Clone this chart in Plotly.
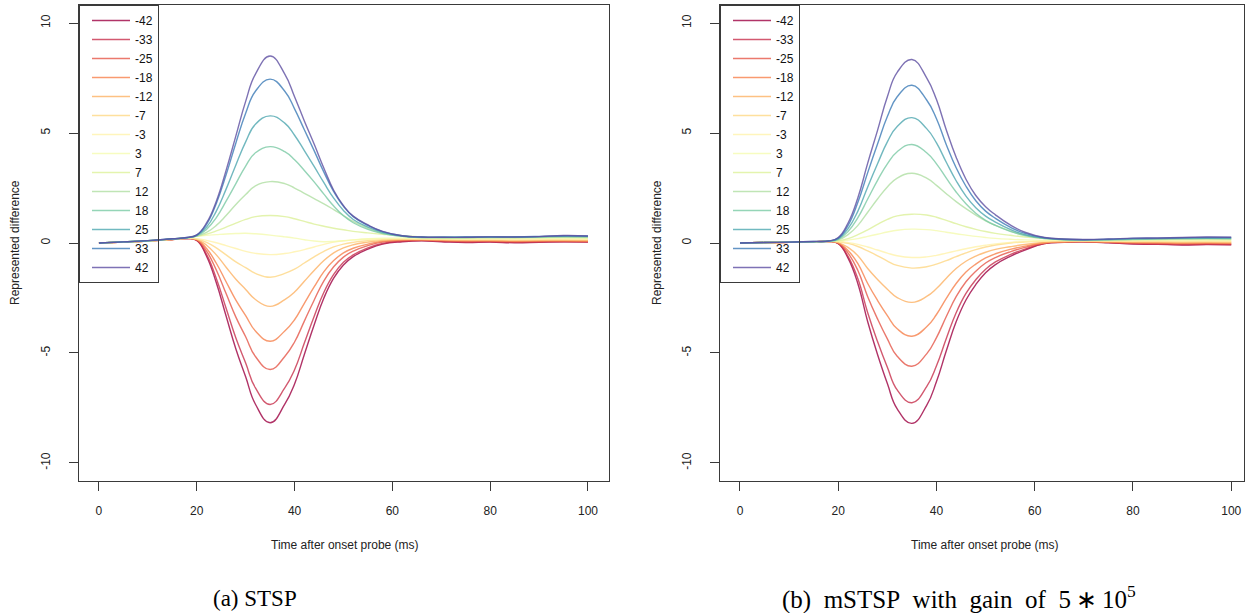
import plotly.graph_objects as go

# ---------------- data ----------------
time_ms = [0, 5, 10, 15, 18, 20, 22, 24, 26, 28, 30, 32, 35, 38, 40, 42, 44, 46, 48, 50,
           52, 55, 58, 62, 66, 70, 75, 80, 85, 90, 95, 100]

series_names = ["-42", "-33", "-25", "-18", "-12", "-7", "-3", "3", "7", "12", "18", "25", "33", "42"]

# (a) STSP
stsp_m42 = [0.0, 0.04, 0.09, 0.16, 0.2, 0.12, -0.6, -1.81, -3.32, -4.82, -6.08, -7.33, -8.17, -7.33, -6.41, -5.07, -3.73, -2.5, -1.6, -1.0, -0.62, -0.28, -0.05, 0.06, 0.1, 0.06, 0.02, 0.04, 0.01, 0.03, 0.05, 0.04]
stsp_m33 = [0.0, 0.04, 0.09, 0.16, 0.2, 0.12, -0.52, -1.61, -2.97, -4.32, -5.46, -6.59, -7.34, -6.59, -5.76, -4.55, -3.34, -2.24, -1.43, -0.88, -0.54, -0.22, -0.02, 0.08, 0.11, 0.08, 0.04, 0.06, 0.03, 0.05, 0.06, 0.05]
stsp_m25 = [0.0, 0.04, 0.09, 0.16, 0.2, 0.14, -0.37, -1.23, -2.3, -3.37, -4.26, -5.16, -5.75, -5.16, -4.5, -3.55, -2.6, -1.72, -1.08, -0.64, -0.37, -0.12, 0.04, 0.11, 0.13, 0.1, 0.07, 0.08, 0.06, 0.07, 0.08, 0.07]
stsp_m18 = [0.0, 0.04, 0.09, 0.16, 0.21, 0.15, -0.25, -0.92, -1.76, -2.6, -3.3, -4.0, -4.47, -4.0, -3.49, -2.74, -2.0, -1.3, -0.8, -0.45, -0.24, -0.05, 0.08, 0.14, 0.14, 0.12, 0.1, 0.1, 0.08, 0.09, 0.1, 0.09]
stsp_m12 = [0.0, 0.04, 0.09, 0.16, 0.21, 0.17, -0.1, -0.54, -1.1, -1.65, -2.11, -2.57, -2.88, -2.57, -2.23, -1.74, -1.25, -0.8, -0.45, -0.22, -0.08, 0.04, 0.12, 0.16, 0.16, 0.14, 0.12, 0.12, 0.11, 0.12, 0.12, 0.11]
stsp_m7 = [0.0, 0.04, 0.09, 0.17, 0.21, 0.18, 0.03, -0.22, -0.54, -0.86, -1.12, -1.38, -1.56, -1.38, -1.19, -0.91, -0.63, -0.38, -0.18, -0.05, 0.03, 0.1, 0.15, 0.17, 0.17, 0.16, 0.14, 0.15, 0.13, 0.14, 0.15, 0.14]
stsp_m3 = [0.0, 0.04, 0.09, 0.17, 0.22, 0.2, 0.12, 0.01, -0.12, -0.25, -0.38, -0.47, -0.53, -0.48, -0.4, -0.3, -0.18, -0.06, 0.04, 0.1, 0.14, 0.17, 0.19, 0.2, 0.19, 0.18, 0.17, 0.17, 0.16, 0.17, 0.18, 0.17]
stsp_p3 = [0.0, 0.05, 0.1, 0.18, 0.23, 0.3, 0.35, 0.38, 0.41, 0.43, 0.44, 0.42, 0.36, 0.28, 0.22, 0.15, 0.09, 0.06, 0.07, 0.1, 0.14, 0.19, 0.22, 0.23, 0.22, 0.21, 0.2, 0.21, 0.2, 0.21, 0.22, 0.21]
stsp_p7 = [0.0, 0.05, 0.1, 0.18, 0.24, 0.3, 0.4, 0.55, 0.72, 0.9, 1.07, 1.2, 1.25, 1.2, 1.1, 0.98, 0.86, 0.76, 0.67, 0.6, 0.53, 0.46, 0.4, 0.33, 0.28, 0.24, 0.23, 0.24, 0.23, 0.24, 0.25, 0.24]
stsp_p12 = [0.0, 0.05, 0.1, 0.18, 0.24, 0.31, 0.48, 0.8, 1.25, 1.75, 2.2, 2.6, 2.79, 2.7, 2.5, 2.26, 2.02, 1.78, 1.52, 1.25, 0.98, 0.67, 0.45, 0.31, 0.25, 0.24, 0.24, 0.25, 0.25, 0.26, 0.27, 0.26]
stsp_p18 = [0.0, 0.05, 0.1, 0.18, 0.24, 0.33, 0.62, 1.15, 1.9, 2.7, 3.5, 4.1, 4.38, 4.15, 3.78, 3.3, 2.78, 2.22, 1.68, 1.24, 0.92, 0.62, 0.43, 0.3, 0.25, 0.25, 0.25, 0.26, 0.26, 0.27, 0.29, 0.28]
stsp_p25 = [0.0, 0.05, 0.1, 0.19, 0.24, 0.35, 0.72, 1.45, 2.45, 3.55, 4.6, 5.4, 5.78, 5.45, 4.9, 4.2, 3.48, 2.74, 2.04, 1.48, 1.07, 0.72, 0.48, 0.32, 0.26, 0.26, 0.26, 0.27, 0.27, 0.29, 0.31, 0.3]
stsp_p33 = [0.0, 0.05, 0.11, 0.19, 0.25, 0.36, 0.85, 1.8, 3.1, 4.55, 5.9, 6.9, 7.45, 6.9, 6.1, 5.15, 4.2, 3.22, 2.34, 1.67, 1.2, 0.8, 0.52, 0.33, 0.27, 0.26, 0.27, 0.28, 0.28, 0.3, 0.33, 0.32]
stsp_p42 = [0.0, 0.05, 0.11, 0.19, 0.25, 0.37, 0.91, 1.9, 3.3, 4.87, 6.44, 7.68, 8.5, 7.68, 6.65, 5.55, 4.5, 3.4, 2.4, 1.7, 1.22, 0.82, 0.53, 0.33, 0.27, 0.26, 0.26, 0.28, 0.27, 0.29, 0.34, 0.32]

# (b) mSTSP with gain of 5*10^5
mstsp_m42 = [0.0, 0.02, 0.03, 0.05, 0.07, -0.03, -0.69, -1.85, -3.58, -5.07, -6.39, -7.54, -8.2, -7.38, -6.3, -4.9, -3.58, -2.59, -1.89, -1.35, -0.98, -0.61, -0.32, -0.03, 0.03, 0.05, 0.01, -0.05, -0.06, -0.09, -0.07, -0.08]
mstsp_m33 = [0.0, 0.02, 0.03, 0.05, 0.07, -0.02, -0.61, -1.63, -3.17, -4.48, -5.65, -6.68, -7.26, -6.53, -5.58, -4.34, -3.17, -2.29, -1.67, -1.19, -0.86, -0.53, -0.28, -0.02, 0.04, 0.05, 0.02, -0.03, -0.05, -0.07, -0.06, -0.07]
mstsp_m25 = [0.0, 0.02, 0.03, 0.05, 0.07, 0.0, -0.46, -1.25, -2.44, -3.45, -4.36, -5.15, -5.6, -5.04, -4.3, -3.34, -2.44, -1.76, -1.28, -0.91, -0.66, -0.4, -0.2, 0.0, 0.05, 0.06, 0.03, 0.0, -0.02, -0.04, -0.03, -0.04]
mstsp_m18 = [0.0, 0.02, 0.03, 0.05, 0.07, 0.01, -0.34, -0.94, -1.84, -2.61, -3.3, -3.9, -4.24, -3.81, -3.25, -2.52, -1.84, -1.32, -0.96, -0.68, -0.49, -0.29, -0.14, 0.01, 0.06, 0.07, 0.05, 0.02, 0.01, -0.01, 0.0, -0.01]
mstsp_m12 = [0.0, 0.02, 0.03, 0.05, 0.07, 0.02, -0.2, -0.58, -1.16, -1.66, -2.1, -2.48, -2.7, -2.43, -2.07, -1.6, -1.16, -0.83, -0.6, -0.42, -0.29, -0.17, -0.07, 0.02, 0.06, 0.08, 0.06, 0.04, 0.04, 0.02, 0.03, 0.02]
mstsp_m7 = [0.0, 0.02, 0.03, 0.05, 0.07, 0.06, -0.02, -0.16, -0.36, -0.58, -0.82, -1.02, -1.14, -1.08, -0.96, -0.8, -0.62, -0.45, -0.3, -0.18, -0.09, 0.0, 0.05, 0.08, 0.1, 0.09, 0.08, 0.07, 0.07, 0.06, 0.07, 0.06]
mstsp_m3 = [0.0, 0.02, 0.03, 0.05, 0.07, 0.07, 0.02, -0.06, -0.18, -0.32, -0.46, -0.58, -0.66, -0.63, -0.56, -0.46, -0.36, -0.26, -0.17, -0.1, -0.04, 0.02, 0.06, 0.09, 0.1, 0.1, 0.09, 0.09, 0.1, 0.09, 0.1, 0.09]
mstsp_p3 = [0.0, 0.02, 0.04, 0.06, 0.08, 0.09, 0.13, 0.2, 0.3, 0.4, 0.5, 0.58, 0.63, 0.61, 0.56, 0.49, 0.42, 0.36, 0.3, 0.25, 0.21, 0.17, 0.14, 0.12, 0.12, 0.12, 0.12, 0.12, 0.13, 0.13, 0.14, 0.13]
mstsp_p7 = [0.0, 0.02, 0.04, 0.06, 0.08, 0.1, 0.2, 0.38, 0.6, 0.85, 1.07, 1.23, 1.31, 1.27, 1.17, 1.03, 0.88, 0.74, 0.62, 0.52, 0.44, 0.35, 0.27, 0.2, 0.16, 0.14, 0.13, 0.14, 0.15, 0.16, 0.16, 0.15]
mstsp_p12 = [0.0, 0.02, 0.04, 0.06, 0.08, 0.14, 0.38, 0.8, 1.4, 2.0, 2.55, 2.95, 3.17, 2.95, 2.62, 2.24, 1.88, 1.56, 1.27, 1.01, 0.8, 0.55, 0.36, 0.22, 0.15, 0.14, 0.14, 0.16, 0.17, 0.18, 0.19, 0.18]
mstsp_p18 = [0.0, 0.02, 0.04, 0.06, 0.08, 0.17, 0.52, 1.15, 2.0, 2.85, 3.6, 4.15, 4.48, 4.1, 3.6, 2.95, 2.32, 1.78, 1.35, 1.03, 0.8, 0.53, 0.34, 0.2, 0.15, 0.14, 0.15, 0.17, 0.19, 0.2, 0.21, 0.2]
mstsp_p25 = [0.0, 0.02, 0.04, 0.06, 0.08, 0.2, 0.65, 1.45, 2.55, 3.6, 4.6, 5.3, 5.7, 5.2, 4.55, 3.67, 2.83, 2.13, 1.6, 1.22, 0.95, 0.62, 0.38, 0.22, 0.16, 0.15, 0.16, 0.19, 0.2, 0.22, 0.23, 0.22]
mstsp_p33 = [0.0, 0.02, 0.04, 0.07, 0.09, 0.22, 0.8, 1.85, 3.2, 4.5, 5.75, 6.65, 7.17, 6.5, 5.65, 4.47, 3.42, 2.58, 1.92, 1.45, 1.12, 0.72, 0.44, 0.24, 0.17, 0.15, 0.17, 0.21, 0.22, 0.24, 0.25, 0.25]
mstsp_p42 = [0.0, 0.02, 0.04, 0.07, 0.09, 0.25, 0.91, 2.06, 3.63, 5.12, 6.65, 7.76, 8.34, 7.51, 6.52, 5.14, 3.9, 2.9, 2.16, 1.65, 1.28, 0.82, 0.49, 0.25, 0.18, 0.16, 0.18, 0.22, 0.23, 0.25, 0.27, 0.26]

stsp_series = [stsp_m42, stsp_m33, stsp_m25, stsp_m18, stsp_m12, stsp_m7, stsp_m3,
               stsp_p3, stsp_p7, stsp_p12, stsp_p18, stsp_p25, stsp_p33, stsp_p42]
mstsp_series = [mstsp_m42, mstsp_m33, mstsp_m25, mstsp_m18, mstsp_m12, mstsp_m7, mstsp_m3,
                mstsp_p3, mstsp_p7, mstsp_p12, mstsp_p18, mstsp_p25, mstsp_p33, mstsp_p42]

x_ticks = [0, 20, 40, 60, 80, 100]
y_ticks = [-10, -5, 0, 5, 10]
y_ticktext = ["-10", "-5", "0", "5", "10"]

# Spectral palette interpolated to 14 colours
colors = ["rgb(158,1,66)", "rgb(200,48,76)", "rgb(230,87,73)", "rgb(247,129,76)",
          "rgb(253,178,100)", "rgb(254,216,133)", "rgb(255,243,171)", "rgb(245,251,176)",
          "rgb(221,241,154)", "rgb(176,223,163)", "rgb(123,202,165)", "rgb(78,167,176)",
          "rgb(60,123,183)", "rgb(94,79,162)"]

W, H = 1248, 613
FONT = "Liberation Sans, Arial, sans-serif"
SERIF = "Liberation Serif, Times New Roman, serif"
AX = "#3a3a3a"

fig = go.Figure()

for i, name in enumerate(series_names):
    fig.add_trace(go.Scatter(x=time_ms, y=stsp_series[i], mode="lines", name=name,
                             line=dict(color=colors[i], width=1.4, shape="spline", smoothing=1.3),
                             opacity=0.8, xaxis="x", yaxis="y", legend="legend"))
for i, name in enumerate(series_names):
    fig.add_trace(go.Scatter(x=time_ms, y=mstsp_series[i], mode="lines", name=name,
                             line=dict(color=colors[i], width=1.4, shape="spline", smoothing=1.3),
                             opacity=0.8, xaxis="x2", yaxis="y2", legend="legend2"))

def px(x):
    return x / W

def py(y):
    return 1 - y / H

xcommon = dict(tickvals=x_ticks, ticks="outside", ticklen=9, tickcolor=AX, tickwidth=1,
               showline=True, mirror=True, linecolor=AX, linewidth=1,
               showgrid=False, zeroline=False, ticklabelstandoff=10,
               tickfont=dict(family=FONT, size=12, color="#222"))
ycommon = dict(tickvals=y_ticks, ticktext=y_ticktext, range=[-10.82, 10.82], tickangle=-90,
               ticks="outside", ticklen=9, tickcolor=AX, tickwidth=1,
               showline=True, mirror=True, linecolor=AX, linewidth=1,
               showgrid=False, zeroline=False, ticklabelstandoff=14,
               tickfont=dict(family=FONT, size=12, color="#222"))

legcommon = dict(xanchor="left", yanchor="top", bgcolor="rgba(255,255,255,0)",
                 bordercolor=AX, borderwidth=1, indentation=7, itemwidth=38,
                 font=dict(family=FONT, size=12, color="#111"), tracegroupgap=0)

fig.update_layout(
    width=W, height=H, autosize=False,
    margin=dict(l=0, r=0, t=0, b=0),
    paper_bgcolor="white", plot_bgcolor="white",
    xaxis=dict(domain=[px(79), px(609)], range=[-4.08, 104.3], anchor="y", **xcommon),
    yaxis=dict(domain=[py(481), py(5)], anchor="x", **ycommon),
    xaxis2=dict(domain=[px(720), px(1244)], range=[-4.07, 102.6], anchor="y2", **xcommon),
    yaxis2=dict(domain=[py(481), py(5)], anchor="x2", **ycommon),
    legend=dict(x=px(79), y=py(5), **legcommon),
    legend2=dict(x=px(720), y=py(5), **legcommon),
)

ann = []
for xc in (15, 657):
    ann.append(dict(text="Represented difference", x=px(xc), y=py(243), xref="paper", yref="paper",
                    xanchor="center", yanchor="middle",
                    showarrow=False, textangle=-90, font=dict(family=FONT, size=12, color="#222")))
for xc in (345, 985):
    ann.append(dict(text="Time after onset probe (ms)", x=px(xc), y=py(545), xref="paper",
                    yref="paper", xanchor="center", yanchor="middle",
                    showarrow=False, font=dict(family=FONT, size=12, color="#222")))
ann.append(dict(text="(a) STSP", x=px(255), y=py(598), xref="paper", yref="paper",
                xanchor="center", yanchor="middle",
                showarrow=False, font=dict(family=SERIF, size=23, color="black")))
ann.append(dict(text="(b)\u2002mSTSP\u2002with\u2002gain\u2002of\u20025\u2009\u2217\u200910<sup>5</sup>",
                x=px(959), y=py(597),
                xref="paper", yref="paper", xanchor="center", yanchor="middle", showarrow=False,
                font=dict(family=SERIF, size=25, color="black")))
fig.update_layout(annotations=ann)

fig.write_html("out.html")
